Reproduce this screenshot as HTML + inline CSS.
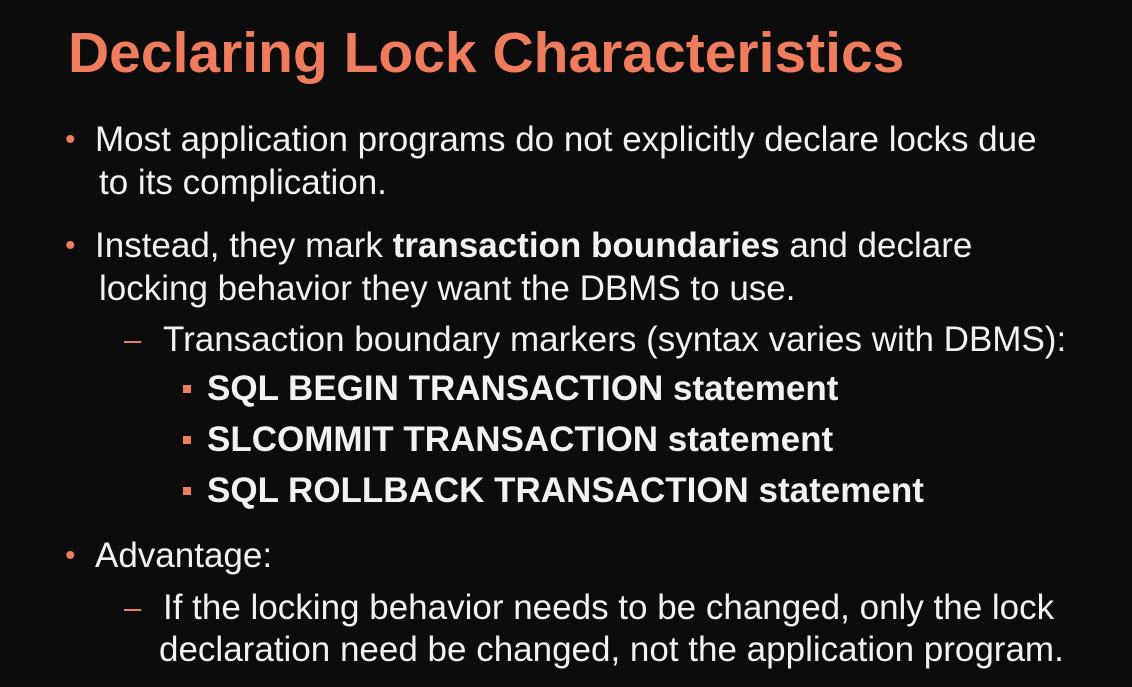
<!DOCTYPE html>
<html><head><meta charset="utf-8">
<style>
html,body{margin:0;padding:0;}
body{width:1132px;height:687px;background:#0c0c0c;position:relative;overflow:hidden;font-family:"Liberation Sans",Arial,sans-serif;color:#f2f2f2;}
.t{position:absolute;white-space:nowrap;line-height:40px;height:40px;}
.title{position:absolute;left:68px;top:21px;font-size:57px;font-weight:bold;color:#f07c5e;line-height:64px;white-space:nowrap;}
.l1{font-size:35px;}
.b{font-size:35px;font-weight:bold;}
.dot{position:absolute;color:#f07c5e;font-size:30px;line-height:40px;}
.dash{position:absolute;color:#f07c5e;font-size:31px;line-height:40px;}
.sq{position:absolute;width:8px;height:8px;background:#f07c5e;}
</style></head><body>
<div class="title">Declaring Lock Characteristics</div>

<div class="dot" style="left:65px;top:120px">•</div>
<div class="t l1" style="left:95px;top:120px">Most application programs do not explicitly declare locks due</div>
<div class="t l1" style="left:99px;top:163px">to its complication.</div>

<div class="dot" style="left:65px;top:226px">•</div>
<div class="t l1" style="left:95px;top:226px">Instead, they mark <b>transaction boundaries</b> and declare</div>
<div class="t l1" style="left:99px;top:269px">locking behavior they want the DBMS to use.</div>

<div class="dash" style="left:124px;top:320px">–</div>
<div class="t l1" style="left:163px;top:320px">Transaction boundary markers (syntax varies with DBMS):</div>

<div class="sq" style="left:183px;top:385px"></div>
<div class="t b" style="left:207px;top:369px">SQL BEGIN TRANSACTION statement</div>
<div class="sq" style="left:183px;top:436px"></div>
<div class="t b" style="left:207px;top:420px">SLCOMMIT TRANSACTION statement</div>
<div class="sq" style="left:183px;top:487px"></div>
<div class="t b" style="left:207px;top:471px">SQL ROLLBACK TRANSACTION statement</div>

<div class="dot" style="left:65px;top:536px">•</div>
<div class="t l1" style="left:95px;top:536px">Advantage:</div>

<div class="dash" style="left:124px;top:588px">–</div>
<div class="t l1" style="left:163px;top:588px">If the locking behavior needs to be changed, only the lock</div>
<div class="t l1" style="left:159px;top:630px">declaration need be changed, not the application program.</div>
</body></html>
